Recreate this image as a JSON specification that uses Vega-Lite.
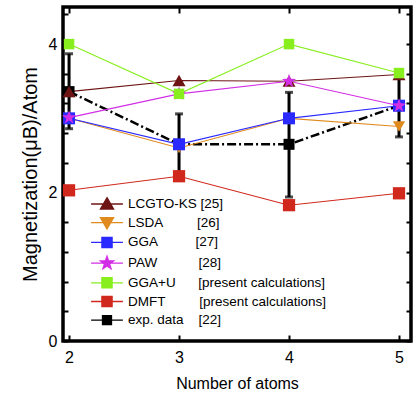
{
  "$schema": "https://vega.github.io/schema/vega-lite/v6.json",
  "autosize": {"type": "none"},
  "padding": {"left": 63, "top": 7, "right": 2, "bottom": 53},
  "width": 348,
  "height": 334,
  "datasets": {
    "main": [
      {"series": "exp. data", "atoms": 2, "m": 3.36, "lo": 2.86, "hi": 3.87},
      {"series": "exp. data", "atoms": 3, "m": 2.65, "lo": 2.24, "hi": 3.06},
      {"series": "exp. data", "atoms": 4, "m": 2.65, "lo": 1.94, "hi": 3.35},
      {"series": "exp. data", "atoms": 5, "m": 3.17, "lo": 2.75, "hi": 3.6},
      {"series": "LCGTO-KS", "atoms": 2, "m": 3.36},
      {"series": "LCGTO-KS", "atoms": 3, "m": 3.51},
      {"series": "LCGTO-KS", "atoms": 4, "m": 3.5},
      {"series": "LCGTO-KS", "atoms": 5, "m": 3.59},
      {"series": "LSDA", "atoms": 2, "m": 3.0},
      {"series": "LSDA", "atoms": 3, "m": 2.6},
      {"series": "LSDA", "atoms": 4, "m": 3.0},
      {"series": "LSDA", "atoms": 5, "m": 2.89},
      {"series": "GGA", "atoms": 2, "m": 3.0},
      {"series": "GGA", "atoms": 3, "m": 2.65},
      {"series": "GGA", "atoms": 4, "m": 3.0},
      {"series": "GGA", "atoms": 5, "m": 3.17},
      {"series": "PAW", "atoms": 2, "m": 3.01},
      {"series": "PAW", "atoms": 3, "m": 3.33},
      {"series": "PAW", "atoms": 4, "m": 3.5},
      {"series": "PAW", "atoms": 5, "m": 3.17},
      {"series": "GGA+U", "atoms": 2, "m": 4.0},
      {"series": "GGA+U", "atoms": 3, "m": 3.33},
      {"series": "GGA+U", "atoms": 4, "m": 4.0},
      {"series": "GGA+U", "atoms": 5, "m": 3.61},
      {"series": "DMFT", "atoms": 2, "m": 2.03},
      {"series": "DMFT", "atoms": 3, "m": 2.22},
      {"series": "DMFT", "atoms": 4, "m": 1.83},
      {"series": "DMFT", "atoms": 5, "m": 1.99}
    ],
    "legend": [
      {"name": "LCGTO-KS [25]"},
      {"name": "LSDA\u00a0\u00a0\u00a0\u00a0\u00a0\u00a0\u00a0\u00a0\u00a0[26]"},
      {"name": "GGA\u00a0\u00a0\u00a0\u00a0\u00a0\u00a0\u00a0\u00a0\u00a0\u00a0[27]"},
      {"name": "PAW\u00a0\u00a0\u00a0\u00a0\u00a0\u00a0\u00a0\u00a0\u00a0\u00a0\u00a0[28]"},
      {"name": "GGA+U\u00a0\u00a0\u00a0\u00a0\u00a0\u00a0[present calculations]"},
      {"name": "DMFT\u00a0\u00a0\u00a0\u00a0\u00a0\u00a0\u00a0\u00a0\u00a0[present calculations]"},
      {"name": "exp. data\u00a0\u00a0\u00a0\u00a0[22]"}
    ]
  },
  "data": {"name": "main"},
  "config": {
    "view": {"stroke": "black", "strokeWidth": 3.5},
    "axis": {
      "grid": false, "domain": false,
      "labelFont": "Liberation Sans", "titleFont": "Liberation Sans",
      "labelColor": "black", "titleColor": "black", "tickColor": "black",
      "titleFontWeight": "normal"
    },
    "legend": {
      "orient": "none", "legendX": 37, "legendY": 190, "padding": 0,
      "labelFont": "Liberation Sans", "labelFontSize": 13.5, "labelColor": "black", "labelLimit": 400,
      "symbolSize": 144, "symbolOpacity": 1, "symbolStrokeWidth": 1.3, "rowPadding": 2.7, "labelOffset": 14
    }
  },
  "resolve": {
    "axis": {"x": "independent", "y": "independent"}
  },
  "layer": [
    {
      "transform": [{"filter": "datum.series === 'exp. data'"}],
      "mark": {"type": "line", "color": "black", "strokeWidth": 2.5, "strokeDash": [9, 3, 2, 3]},
      "encoding": {
        "x": {"field": "atoms", "type": "quantitative",
          "scale": {"domain": [1.945, 5.109], "nice": false, "zero": false},
          "axis": {"orient": "bottom", "offset": -6, "values": [2, 3, 4, 5], "format": "d", "tickSize": 6, "tickWidth": 2,
            "labelFontSize": 16, "labelPadding": 8, "title": "Number of atoms", "titleFontSize": 16, "titlePadding": 10}},
        "y": {"field": "m", "type": "quantitative",
          "scale": {"domain": [0, 4.5], "nice": false, "zero": false},
          "axis": {"orient": "left", "offset": -5, "values": [0, 2, 4], "format": "d", "labelOverlap": false, "labelFlush": false,
            "tickSize": 5, "tickWidth": 2, "labelFontSize": 16, "labelPadding": 6,
            "title": "Magnetization(μB)/Atom", "titleFontSize": 20, "titlePadding": 8}}
      }
    },
    {
      "transform": [{"filter": "datum.series !== 'exp. data'"}],
      "mark": {"type": "line", "strokeWidth": 1.1},
      "encoding": {
        "x": {"field": "atoms", "type": "quantitative",
          "axis": {"orient": "top", "offset": -6, "values": [2, 3, 4, 5], "labels": false, "tickSize": 6, "tickWidth": 2, "title": null}},
        "y": {"field": "m", "type": "quantitative",
          "axis": {"orient": "right", "offset": -5, "values": [0, 0.4, 0.8, 1.2, 1.6, 2, 2.4, 2.8, 3.2, 3.6, 4, 4.4], "labels": false, "tickSize": 5, "tickWidth": 2, "title": null}},
        "color": {"field": "series", "type": "nominal", "legend": null,
          "scale": {"domain": ["exp. data", "LCGTO-KS", "LSDA", "GGA", "PAW", "GGA+U", "DMFT"],
            "range": ["#000000", "#6e1414", "#e08a1e", "#2a2aff", "#d22ee6", "#88ee1e", "#d0281c"]}}
      }
    },
    {
      "transform": [{"filter": "datum.series === 'exp. data'"}],
      "mark": {"type": "rule", "color": "black", "strokeWidth": 3},
      "encoding": {
        "x": {"field": "atoms", "type": "quantitative", "axis": null},
        "y": {"field": "lo", "type": "quantitative",
          "axis": {"orient": "left", "offset": -5, "values": [0.4, 0.8, 1.2, 1.6, 2.4, 2.8, 3.2, 3.6, 4.4], "labels": false, "tickSize": 5, "tickWidth": 2, "title": null}},
        "y2": {"field": "hi"}
      }
    },
    {
      "transform": [{"filter": "datum.series === 'exp. data'"}],
      "mark": {"type": "tick", "color": "black", "orient": "horizontal", "size": 8, "thickness": 3},
      "encoding": {
        "x": {"field": "atoms", "type": "quantitative", "axis": null},
        "y": {"field": "lo", "type": "quantitative", "axis": null}
      }
    },
    {
      "transform": [{"filter": "datum.series === 'exp. data'"}],
      "mark": {"type": "tick", "color": "black", "orient": "horizontal", "size": 8, "thickness": 3},
      "encoding": {
        "x": {"field": "atoms", "type": "quantitative", "axis": null},
        "y": {"field": "hi", "type": "quantitative", "axis": null}
      }
    },
    {
      "transform": [{"filter": "datum.series === 'exp. data'"}],
      "mark": {"type": "point", "filled": true, "opacity": 1, "shape": "square", "size": 121, "color": "black"},
      "encoding": {
        "x": {"field": "atoms", "type": "quantitative", "axis": null},
        "y": {"field": "m", "type": "quantitative", "axis": null}
      }
    },
    {
      "transform": [{"filter": "datum.series === 'LCGTO-KS'"}],
      "mark": {"type": "point", "filled": true, "opacity": 1, "shape": "triangle-up", "size": 170, "color": "#6e1414"},
      "encoding": {
        "x": {"field": "atoms", "type": "quantitative", "axis": null},
        "y": {"field": "m", "type": "quantitative", "axis": null}
      }
    },
    {
      "transform": [{"filter": "datum.series === 'LSDA'"}],
      "mark": {"type": "point", "filled": true, "opacity": 1, "shape": "triangle-down", "size": 150, "color": "#e08a1e"},
      "encoding": {
        "x": {"field": "atoms", "type": "quantitative", "axis": null},
        "y": {"field": "m", "type": "quantitative", "axis": null}
      }
    },
    {
      "transform": [{"filter": "datum.series === 'GGA'"}],
      "mark": {"type": "point", "filled": true, "opacity": 1, "shape": "square", "size": 144, "color": "#2a2aff"},
      "encoding": {
        "x": {"field": "atoms", "type": "quantitative", "axis": null},
        "y": {"field": "m", "type": "quantitative", "axis": null}
      }
    },
    {
      "transform": [{"filter": "datum.series === 'PAW'"}],
      "mark": {"type": "point", "filled": true, "opacity": 1, "shape": "M0,-1L0.235,-0.324L0.951,-0.309L0.38,0.124L0.588,0.809L0,0.4L-0.588,0.809L-0.38,0.124L-0.951,-0.309L-0.235,-0.324Z", "size": 220, "color": "#d22ee6"},
      "encoding": {
        "x": {"field": "atoms", "type": "quantitative", "axis": null},
        "y": {"field": "m", "type": "quantitative", "axis": null}
      }
    },
    {
      "transform": [{"filter": "datum.series === 'GGA+U'"}],
      "mark": {"type": "point", "filled": true, "opacity": 1, "shape": "square", "size": 110, "color": "#88ee1e"},
      "encoding": {
        "x": {"field": "atoms", "type": "quantitative", "axis": null},
        "y": {"field": "m", "type": "quantitative", "axis": null}
      }
    },
    {
      "transform": [{"filter": "datum.series === 'DMFT'"}],
      "mark": {"type": "point", "filled": true, "opacity": 1, "shape": "square", "size": 150, "color": "#d0281c"},
      "encoding": {
        "x": {"field": "atoms", "type": "quantitative", "axis": null},
        "y": {"field": "m", "type": "quantitative", "axis": null}
      }
    },
    {
      "data": {"name": "legend"},
      "mark": {"type": "point", "filled": true, "opacity": 0},
      "encoding": {
        "fill": {"field": "name", "type": "nominal", "title": null,
          "scale": {"domain": ["LCGTO-KS [25]", "LSDA\u00a0\u00a0\u00a0\u00a0\u00a0\u00a0\u00a0\u00a0\u00a0[26]", "GGA\u00a0\u00a0\u00a0\u00a0\u00a0\u00a0\u00a0\u00a0\u00a0\u00a0[27]", "PAW\u00a0\u00a0\u00a0\u00a0\u00a0\u00a0\u00a0\u00a0\u00a0\u00a0\u00a0[28]", "GGA+U\u00a0\u00a0\u00a0\u00a0\u00a0\u00a0[present calculations]", "DMFT\u00a0\u00a0\u00a0\u00a0\u00a0\u00a0\u00a0\u00a0\u00a0[present calculations]", "exp. data\u00a0\u00a0\u00a0\u00a0[22]"],
            "range": ["#6e1414", "#e08a1e", "#2a2aff", "#d22ee6", "#88ee1e", "#d0281c", "#000000"]}},
        "stroke": {"field": "name", "type": "nominal", "title": null,
          "scale": {"domain": ["LCGTO-KS [25]", "LSDA\u00a0\u00a0\u00a0\u00a0\u00a0\u00a0\u00a0\u00a0\u00a0[26]", "GGA\u00a0\u00a0\u00a0\u00a0\u00a0\u00a0\u00a0\u00a0\u00a0\u00a0[27]", "PAW\u00a0\u00a0\u00a0\u00a0\u00a0\u00a0\u00a0\u00a0\u00a0\u00a0\u00a0[28]", "GGA+U\u00a0\u00a0\u00a0\u00a0\u00a0\u00a0[present calculations]", "DMFT\u00a0\u00a0\u00a0\u00a0\u00a0\u00a0\u00a0\u00a0\u00a0[present calculations]", "exp. data\u00a0\u00a0\u00a0\u00a0[22]"],
            "range": ["#6e1414", "#e08a1e", "#2a2aff", "#d22ee6", "#88ee1e", "#d0281c", "#000000"]}},
        "shape": {"field": "name", "type": "nominal", "title": null,
          "scale": {"domain": ["LCGTO-KS [25]", "LSDA\u00a0\u00a0\u00a0\u00a0\u00a0\u00a0\u00a0\u00a0\u00a0[26]", "GGA\u00a0\u00a0\u00a0\u00a0\u00a0\u00a0\u00a0\u00a0\u00a0\u00a0[27]", "PAW\u00a0\u00a0\u00a0\u00a0\u00a0\u00a0\u00a0\u00a0\u00a0\u00a0\u00a0[28]", "GGA+U\u00a0\u00a0\u00a0\u00a0\u00a0\u00a0[present calculations]", "DMFT\u00a0\u00a0\u00a0\u00a0\u00a0\u00a0\u00a0\u00a0\u00a0[present calculations]", "exp. data\u00a0\u00a0\u00a0\u00a0[22]"],
            "range": [
              "M-2.65,0H2.65M0,-1.05L1.1,0.85L-1.1,0.85Z",
              "M-2.65,0H2.65M0,1.05L1.1,-0.85L-1.1,-0.85Z",
              "M-2.65,0H2.65M-0.85,-0.85H0.85V0.85H-0.85Z",
              "M-2.65,0H2.65M0,-1.15L0.27,-0.372L1.094,-0.355L0.437,0.142L0.676,0.93L0,0.46L-0.676,0.93L-0.437,0.142L-1.094,-0.355L-0.27,-0.372Z",
              "M-2.65,0H2.65M-0.85,-0.85H0.85V0.85H-0.85Z",
              "M-2.65,0H2.65M-0.85,-0.85H0.85V0.85H-0.85Z",
              "M-2.65,0H2.65M-0.75,-0.75H0.75V0.75H-0.75Z"
            ]},
          "legend": {"encode": {"symbols": {"update": {"strokeWidth": {"signal": "indexof(datum.value, 'exp') === 0 ? 3.5 : 1.3"}}}}}}
      }
    }
  ]
}
